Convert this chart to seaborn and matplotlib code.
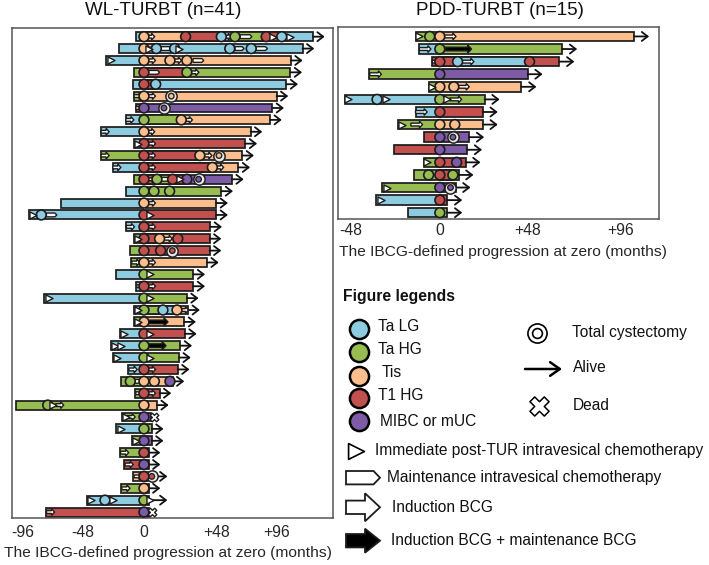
import matplotlib
matplotlib.use("Agg")
import matplotlib.pyplot as plt
from matplotlib.patches import Polygon
import pandas as pd
import seaborn as sns

# stage colours
stage_order = ["LG", "HG", "Tis", "T1", "MIBC"]
stage_names = ["Ta LG", "Ta HG", "Tis", "T1 HG", "MIBC or mUC"]
stage_colors = dict(zip(stage_order, ["#8DCBE1", "#97BC52", "#FBBE8C", "#C2504E", "#7E5BA6"]))

# WL-TURBT cohort, one entry per patient, months from progression
wl_start = [-6.4, -19.5, -29, -7.4, -8.7, -7.7, -6.4, -14, -33, -7.7, -33, -24, -8, -14,
            -63.6, -88.5, -14, -7.7, -10.5, -9.7, -21.5, -6, -76.7, -7.7, -7.7, -18.7, -25, -24,
            -12, -18, -7, -98.7, -17, -21.5, -9.5, -18.5, -15, -8.5, -18, -44, -75]
wl_before = ["LG", "LG", "LG", "HG", "LG", "HG", "T1", "LG", "LG", "LG", "HG", "LG", "HG", "LG",
             "LG", "LG", "LG", "HG", "HG", "HG", "LG", "LG", "LG", "LG", "HG", "LG", "LG", "LG",
             "LG", "HG", "HG", "HG", "HG", "LG", "HG", "HG", "T1", "Tis", "HG", "LG", "T1"]
wl_after = [
    [("Tis", 32), ("T1", 59.5), ("LG", 70), ("HG", 94), ("T1", 106), ("LG", 130)],
    [("Tis", 9.5), ("LG", 122)],
    [("Tis", 113)],
    [("T1", 33), ("HG", 112.6)],
    [("T1", 9), ("LG", 109.5)],
    [("Tis", 102)],
    [("MIBC", 98.7)],
    [("HG", 28.7), ("Tis", 97)],
    [("Tis", 82)],
    [("T1", 78)],
    [("T1", 43), ("Tis", 75.6)],
    [("T1", 52.6), ("Tis", 72.6)],
    [("T1", 10), ("HG", 22), ("T1", 33), ("MIBC", 67.7)],
    [("HG", 59.5)],
    [("Tis", 55.6)],
    [("T1", 55.6)],
    [("T1", 51)],
    [("T1", 12), ("Tis", 26), ("T1", 50.5)],
    [("T1", 50.5)],
    [("Tis", 48.5)],
    [("HG", 38)],
    [("T1", 38)],
    [("HG", 33)],
    [("HG", 14.6), ("LG", 25.4), ("Tis", 34)],
    [("Tis", 31)],
    [("T1", 31.5)],
    [("HG", 28)],
    [("HG", 27)],
    [("T1", 26)],
    [("Tis", 22)],
    [("T1", 12)],
    [("Tis", 10)],
    [("MIBC", 5.6)],
    [("HG", 6)],
    [("MIBC", 6)],
    [("T1", 3.6)],
    [("MIBC", 3.6)],
    [("T1", 3)],
    [("Tis", 3.6)],
    [("HG", 3.6)],
    [("MIBC", 3.6)],
]
# (patient, month, stage)
wl_circles = [(1, 0, "Tis"), (1, 32, "T1"), (1, 59.5, "LG"), (1, 70, "HG"), (1, 94, "T1"), (1, 106, "LG"),
              (2, 0, "Tis"), (2, 9.5, "LG"), (2, 23.6, "LG"), (2, 66, "LG"), (2, 82.5, "LG"),
              (3, 0, "Tis"), (3, 20, "Tis"), (3, 33, "Tis"), (4, 0, "T1"), (4, 33, "HG"),
              (5, 0, "T1"), (5, 9, "LG"), (6, 0, "Tis"), (7, 0, "MIBC"), (8, 0, "HG"), (8, 28.7, "Tis"),
              (9, 0, "Tis"), (10, 0, "T1"), (11, 0, "T1"), (11, 43, "Tis"), (12, 0, "T1"), (12, 52.6, "Tis"),
              (13, 0, "T1"), (13, 10, "HG"), (13, 22, "T1"), (13, 33, "MIBC"),
              (14, 0, "HG"), (14, 7.7, "HG"), (14, 19.7, "HG"), (15, 0, "Tis"),
              (16, 0, "T1"), (16, -79, "LG"), (17, 0, "T1"), (18, 0, "T1"), (18, 12, "Tis"), (18, 26, "T1"),
              (19, 0, "T1"), (19, 12.8, "T1"), (20, 0, "Tis"), (21, 0, "HG"), (22, 0, "T1"), (23, 0, "HG"),
              (24, 0, "HG"), (24, 14.6, "LG"), (24, 25.4, "Tis"), (25, 0, "Tis"), (26, 0, "T1"), (27, 0, "HG"),
              (28, 0, "HG"), (29, 0, "T1"), (30, -10.5, "HG"), (30, 0, "Tis"), (30, 8, "Tis"), (30, 20, "MIBC"),
              (31, 0, "T1"), (32, -74, "HG"), (32, 0, "Tis"), (33, 0, "MIBC"), (34, 0, "HG"), (35, 0, "MIBC"),
              (36, 0, "T1"), (37, 0, "MIBC"), (38, 0, "T1"), (39, 0, "Tis"), (40, -30, "LG"), (40, 0, "HG"),
              (41, 0, "MIBC")]
wl_chemo = [(1, 99), (1, 112), (2, 3.5), (2, 27), (3, -25.6), (10, -4.6), (13, 27.4), (16, -85.4), (16, 4.4),
            (18, -4.6), (21, 4.4), (23, -73), (23, 4.4), (24, -4.6), (25, -4.6), (26, -15.6), (26, 4.4),
            (27, -22), (27, -17.4), (28, -21), (28, 4.4), (32, -70), (33, -14), (34, -18), (35, -6.4),
            (40, -41), (40, -24), (40, 4.4)]
wl_maint = [(1, 74, 83), (2, 13, 21), (2, 70, 77), (2, 86, 95), (3, 37.7, 46), (4, 3, 12), (13, 13, 22),
            (16, -75, -67), (30, -7, -2)]
wl_bcg = [(1, 5), (1, 64), (2, 5.6), (3, 5.6), (3, 25.6), (4, 39), (6, -4.6), (6, 5.6), (7, -3.3), (8, -11),
          (8, 34), (9, -30), (9, 5), (10, 5.6), (11, -30), (11, 5.6), (11, 49), (12, -21), (12, 5.6), (12, 58),
          (13, 5.6), (15, 5.6), (17, -10.5), (17, 5.6), (18, 18.5), (20, -6.4), (20, 5.6), (22, -2.5), (22, 5.6),
          (24, 31), (29, -8.5), (29, 5.6), (31, -3.3), (31, 5.6), (32, -65), (33, -10), (36, -15), (37, -11.5),
          (38, -4.6), (39, -14), (41, -72)]
wl_combo = [(25, 3, 18.5), (27, 3, 17)]
wl_cyst = [(6, 21, "Tis"), (7, 15.4, "MIBC"), (11, 57.7, "Tis"), (13, 42, "MIBC"), (19, 21.8, "T1"), (38, 6, "T1")]
wl_dead = [(33, 7.4), (41, 6)]
wl_arrow_tips = {38: 18, 40: 18}

# PDD-TURBT cohort
pdd_start = [-13, -11, -4, -37.7, -6, -51, -13, -22.5, -8.4, -24.5, -8.4, -13.75, -31, -34, -17]
pdd_before = ["HG", "LG", "T1", "HG", "HG", "LG", "LG", "HG", "T1", "T1", "HG", "HG", "HG", "LG", "LG"]
pdd_after = [
    [("Tis", 104)],
    [("HG", 65.5)],
    [("T1", 9.5), ("LG", 48), ("T1", 64)],
    [("MIBC", 47)],
    [("Tis", 43.7)],
    [("HG", 24)],
    [("T1", 23)],
    [("Tis", 23)],
    [("MIBC", 15.7)],
    [("MIBC", 14.6)],
    [("T1", 13.75)],
    [("T1", 7), ("HG", 10)],
    [("MIBC", 8.4)],
    [("T1", 4)],
    [("HG", 4)],
]
pdd_circles = [(1, -5.4, "HG"), (1, 0, "Tis"), (2, 0, "HG"), (3, 0, "T1"), (3, 9.5, "LG"), (3, 48, "T1"),
               (4, 0, "MIBC"), (5, 0, "Tis"), (5, 7.5, "Tis"), (6, -33.6, "LG"), (6, 0, "HG"), (7, 0, "T1"),
               (8, 0, "Tis"), (8, 8, "Tis"), (9, 0, "MIBC"), (10, 0, "MIBC"), (11, 0, "T1"), (11, 9, "MIBC"),
               (12, -6, "HG"), (12, 0, "T1"), (12, 7, "HG"), (13, 0, "MIBC"), (14, 0, "T1"), (15, 0, "HG")]
pdd_chemo = [(1, -11), (5, -4), (6, -49), (6, -29), (6, 4), (8, -20), (11, -6.6), (13, -28.5), (14, -31.6)]
pdd_maint = []
pdd_bcg = [(1, 5.4), (2, -8), (3, -1), (3, 15), (4, -34.5), (5, 12.5), (6, 8.4), (7, -10), (8, -12.5)]
pdd_combo = [(2, 2.7, 17)]
pdd_cyst = [(9, 7, "MIBC"), (13, 5.7, "MIBC")]
pdd_dead = []
pdd_arrow_tips = {}

wl_ticks = [-93.6, -47.4, 0, 56, 102]
wl_ticklabels = ["-96", "-48", "0", "+48", "+96"]
pdd_ticks = [-47.5, 0, 47, 97]
pdd_ticklabels = ["-48", "0", "+48", "+96"]
xlabel = "The IBCG-defined progression at zero (months)"

EDGE = "#1c1c1c"
W, H = 709, 565


def pix_axes(fig, left, top, right, bottom):
    return fig.add_axes([left / W, 1 - bottom / H, (right - left) / W, (bottom - top) / H])


def block_arrow(ax, x0, x1, y, shaft, head, head_len, color, lw=1.0):
    pts = [(x0, y - shaft), (x1 - head_len, y - shaft), (x1 - head_len, y - head), (x1, y),
           (x1 - head_len, y + head), (x1 - head_len, y + shaft), (x0, y + shaft)]
    ax.add_patch(Polygon(pts, closed=True, fc=color, ec=EDGE, lw=lw, zorder=5, joinstyle="miter"))


def pentagon(ax, x0, x1, y, half, tip, color, lw=1.0):
    pts = [(x0, y - half), (x1 - tip, y - half), (x1, y), (x1 - tip, y + half), (x0, y + half)]
    ax.add_patch(Polygon(pts, closed=True, fc=color, ec=EDGE, lw=lw, zorder=5, joinstyle="miter"))


def draw_panel(ax, start, before, after, circles, chemo, maint, bcg, combo, cyst, dead, tips,
               xlim, ylim, px_x, px_y, arrow_len):
    n = len(start)
    rows = list(range(1, n + 1))

    # layers: the outermost stretch goes down first, shorter ones cover it
    layers = [pd.DataFrame({"row": rows, "months": start, "stage": before})]
    for depth in range(max(len(a) for a in after)):
        recs = []
        for r, segs in zip(rows, after):
            if depth < len(segs):
                stage, end = segs[len(segs) - 1 - depth]
                recs.append((r, end, stage))
        layers.append(pd.DataFrame(recs, columns=["row", "months", "stage"]))

    for layer in layers:
        sns.barplot(data=layer, x="months", y="row", order=rows, hue="stage", hue_order=stage_order,
                    palette=stage_colors, orient="h", dodge=False, width=0.75, saturation=1,
                    edgecolor=EDGE, linewidth=1.25, legend=False, ax=ax)

    ax.axvline(0, color="white", lw=1.0, ls=":", zorder=2)

    # alive arrows
    dead_rows = [d[0] for d in dead]
    for r, segs in zip(rows, after):
        if r in dead_rows:
            continue
        end = segs[-1][1]
        tip = tips.get(r, end + arrow_len)
        ax.annotate("", xy=(tip, r - 1), xytext=(end, r - 1),
                    arrowprops=dict(arrowstyle="->,head_length=0.35,head_width=0.27", lw=1.3,
                                    color="#111111", shrinkA=0, shrinkB=0, mutation_scale=12), zorder=2)

    # treatments
    for r, x0, x1 in maint:
        pentagon(ax, x0, x1, r - 1, 1.9 / px_y, 2 / px_x, "white")
    for r, x in bcg:
        block_arrow(ax, x - 3, x + 3.2, r - 1, 1.4 / px_y, 3.4 / px_y, 3 / px_x, "white")
    for r, x0, x1 in combo:
        block_arrow(ax, x0, x1, r - 1, 1.8 / px_y, 4 / px_y, 4 / px_x, "black")

    # cystectomy rings
    if cyst:
        sns.scatterplot(x=[c[1] for c in cyst], y=[c[0] - 1 for c in cyst], s=66, color="#e8e8e8",
                        edgecolor="#222222", linewidth=1.1, legend=False, ax=ax, zorder=6)
        sns.scatterplot(x=[c[1] for c in cyst], y=[c[0] - 1 for c in cyst], hue=[c[2] for c in cyst],
                        hue_order=stage_order, palette=stage_colors, s=16, edgecolor="#222222",
                        linewidth=1.0, legend=False, ax=ax, zorder=7)

    # stage circles
    sns.scatterplot(x=[c[1] for c in circles], y=[c[0] - 1 for c in circles], hue=[c[2] for c in circles],
                    hue_order=stage_order, palette=stage_colors, s=50, edgecolor=EDGE, linewidth=1.2,
                    legend=False, ax=ax, zorder=6)

    # immediate chemo
    sns.scatterplot(x=[c[1] for c in chemo], y=[c[0] - 1 for c in chemo], marker=">", s=26, color="white",
                    edgecolor=EDGE, linewidth=1.0, legend=False, ax=ax, zorder=7)

    if dead:
        sns.scatterplot(x=[d[1] for d in dead], y=[d[0] - 1 for d in dead], marker="X", s=38, color="white",
                        edgecolor=EDGE, linewidth=1.0, legend=False, ax=ax, zorder=7)

    ax.set_xlim(*xlim)
    ax.set_ylim(*ylim)
    ax.set_yticks([])
    ax.set_ylabel("")
    for sp in ax.spines.values():
        sp.set_visible(True)
        sp.set_color("#555555")
        sp.set_linewidth(1.1)
    ax.tick_params(axis="x", length=0, labelsize=11.3, pad=5)


sns.set_theme(style="white")
plt.rcParams["font.family"] = ["Liberation Sans", "DejaVu Sans"]

fig = plt.figure(figsize=(7.09, 5.65), dpi=100)

# left panel, 12..333 px wide, 1.3 px per month
ax1 = pix_axes(fig, 12, 28, 333, 518)
draw_panel(ax1, wl_start, wl_before, wl_after, wl_circles, wl_chemo, wl_maint, wl_bcg, wl_combo, wl_cyst,
           wl_dead, wl_arrow_tips, (-101.5, 145.4), (40.5, -0.73), 1.3, 11.88, 9)
ax1.set_xticks(wl_ticks, wl_ticklabels)
ax1.set_xlabel(xlabel, fontsize=11.15)
ax1.xaxis.set_label_coords((167.5 - 12) / 321, (518 - 546) / 490)

# right panel, 1.87 px per month
ax2 = pix_axes(fig, 338, 27, 659, 219)
draw_panel(ax2, pdd_start, pdd_before, pdd_after, pdd_circles, pdd_chemo, pdd_maint, pdd_bcg, pdd_combo,
           pdd_cyst, pdd_dead, pdd_arrow_tips, (-54.5, 117.3), (14.5, -0.75), 1.87, 12.56, 8)
ax2.set_xticks(pdd_ticks, pdd_ticklabels)
ax2.tick_params(axis="x", pad=3)
ax2.set_xlabel(xlabel, fontsize=11.15)
ax2.xaxis.set_label_coords((503 - 338) / 321, (219 - 245) / 192)

# overlay in pixel units for titles and the hand-made legend
ov = fig.add_axes([0, 0, 1, 1], zorder=10)
ov.set_xlim(0, W)
ov.set_ylim(H, 0)
ov.axis("off")
ov.patch.set_alpha(0)

ov.text(163, 10.5, "WL-TURBT (n=41)", fontsize=13.5, ha="center", va="center", color="#111111")
ov.text(500, 10.5, "PDD-TURBT (n=15)", fontsize=13.5, ha="center", va="center", color="#111111")
ov.text(343, 296, "Figure legends", fontsize=11.3, fontweight="bold", va="center", color="#111111")

legend_y = [329, 352, 375.7, 398, 421]
legend_text_x = [378, 378.5, 381.5, 378.5, 380]
legend_text_y = [326.7, 349, 372.7, 396, 421.7]
for st, name, y, tx, ty in zip(stage_order, stage_names, legend_y, legend_text_x, legend_text_y):
    sns.scatterplot(x=[359.3], y=[y], s=190, color=stage_colors[st], edgecolor="black", linewidth=1.8,
                    legend=False, ax=ov, clip_on=False)
    ov.text(tx, ty, name, fontsize=11.2, va="center", color="#111111")

sns.scatterplot(x=[537], y=[333], s=190, color="white", edgecolor="black", linewidth=1.2, legend=False, ax=ov)
sns.scatterplot(x=[537], y=[333], s=50, color="white", edgecolor="black", linewidth=1.2, legend=False, ax=ov)
ov.text(572, 332.7, "Total cystectomy", fontsize=11.2, va="center", color="#111111")

ov.annotate("", xy=(562, 369), xytext=(525, 369),
            arrowprops=dict(arrowstyle="->,head_length=0.5,head_width=0.35", lw=1.8, color="black",
                            shrinkA=0, shrinkB=0, mutation_scale=14))
ov.text(573, 368, "Alive", fontsize=11.2, va="center", color="#111111")

sns.scatterplot(x=[539], y=[406], marker="X", s=190, color="white", edgecolor="black", linewidth=1.1,
                legend=False, ax=ov)
ov.text(573, 405, "Dead", fontsize=11.2, va="center", color="#111111")

sns.scatterplot(x=[355.5], y=[451], marker=">", s=130, color="white", edgecolor="black", linewidth=1.2,
                legend=False, ax=ov)
ov.text(375, 450.7, "Immediate post-TUR intravesical chemotherapy", fontsize=11.2, va="center", color="#111111")

pentagon(ov, 346, 380, 477.7, 6.7, 6.5, "white", lw=1.3)
ov.text(386.7, 477.7, "Maintenance intravesical chemotherapy", fontsize=11.2, va="center", color="#111111")

block_arrow(ov, 346, 380, 507.3, 6.7, 14, 15, "white", lw=1.3)
ov.text(391.7, 507.3, "Induction BCG", fontsize=11.2, va="center", color="#111111")

block_arrow(ov, 346, 380, 540.7, 6.7, 12, 15, "black", lw=1.3)
ov.text(390.7, 540.7, "Induction BCG + maintenance BCG", fontsize=11.2, va="center", color="#111111")

ov.set_xlabel("")
ov.set_ylabel("")
ov.set_xlim(0, W)
ov.set_ylim(H, 0)

fig.savefig("out.png", dpi=100, facecolor="white")
